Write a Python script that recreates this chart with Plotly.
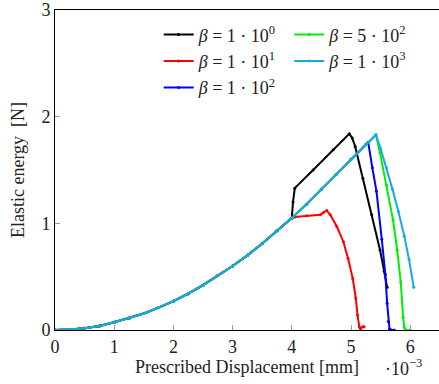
import plotly.graph_objects as go

# Shared loading branch (displacement in 1e-3 mm, elastic energy in N)
u_load = [0.0, 0.25, 0.5, 0.75, 1.0, 1.25, 1.5, 1.75, 2.0, 2.25, 2.5, 2.75,
          3.0, 3.25, 3.5, 3.75, 4.0]
e_load = [0.0, 0.004, 0.016, 0.038, 0.072, 0.11, 0.155, 0.21, 0.27, 0.34,
          0.42, 0.51, 0.60, 0.70, 0.81, 0.93, 1.05]

# Continued loading beyond 4e-3 for the larger beta values
u_late = [4.25, 4.5, 4.75, 5.0, 5.25]
e_late = [1.18, 1.32, 1.46, 1.60, 1.74]

# beta = 1e0
u_b0 = [4.02, 4.05, 4.36, 4.7, 4.97, 5.02, 5.07, 5.2, 5.35, 5.49, 5.56, 5.61]
e_b0 = [1.20, 1.33, 1.50, 1.69, 1.84, 1.80, 1.72, 1.42, 1.08, 0.75, 0.55, 0.40]

# beta = 1e1
u_b1 = [4.05, 4.25, 4.48, 4.53, 4.59, 4.65, 4.76, 4.87, 4.95, 5.03, 5.08,
        5.11, 5.14, 5.16, 5.2, 5.22]
e_b1 = [1.06, 1.07, 1.08, 1.10, 1.12, 1.08, 0.97, 0.83, 0.67, 0.48, 0.30,
        0.14, 0.03, 0.01, 0.03, 0.03]

# beta = 1e2
u_b2 = [5.29, 5.36, 5.43, 5.52, 5.58, 5.61, 5.63, 5.65, 5.68, 5.73]
e_b2 = [1.76, 1.52, 1.30, 0.85, 0.52, 0.25, 0.08, 0.01, 0.0, 0.0]

# beta = 5e2
u_b5 = [5.42, 5.49, 5.6, 5.71, 5.78, 5.84, 5.88, 5.9, 5.93, 6.0]
e_b5 = [1.83, 1.66, 1.36, 1.03, 0.75, 0.45, 0.12, 0.02, 0.0, 0.0]

# beta = 1e3
u_b3 = [5.42, 5.5, 5.6, 5.7, 5.8, 5.9, 5.98, 6.06]
e_b3 = [1.83, 1.70, 1.52, 1.32, 1.11, 0.88, 0.66, 0.40]

labels = ["<i>β</i> = 1 · 10<sup>0</sup>", "<i>β</i> = 1 · 10<sup>1</sup>",
          "<i>β</i> = 1 · 10<sup>2</sup>", "<i>β</i> = 5 · 10<sup>2</sup>",
          "<i>β</i> = 1 · 10<sup>3</sup>"]
colors = ["#000000", "#ff0000", "#0000ff", "#00ee00", "#16a9e1"]

series = [
    (u_load + u_b0, e_load + e_b0, "legend"),
    (u_load + u_b1, e_load + e_b1, "legend"),
    (u_load + u_late + u_b2, e_load + e_late + e_b2, "legend"),
    (u_load + u_late + u_b5, e_load + e_late + e_b5, "legend2"),
    (u_load + u_late + u_b3, e_load + e_late + e_b3, "legend2"),
]

FONT = "'Liberation Serif', 'DejaVu Serif', serif"

fig = go.Figure()
for (x, y, leg), name, col in zip(series, labels, colors):
    fig.add_trace(go.Scatter(
        x=x, y=y, mode="lines+markers", name=name, legend=leg,
        line=dict(color=col, width=2),
        marker=dict(color=col, size=3),
    ))

legend_style = dict(
    bgcolor="rgba(0,0,0,0)", borderwidth=0, tracegroupgap=0,
    font=dict(family=FONT, size=18, color="#222"),
    xanchor="left", yanchor="top",
)

fig.update_layout(
    width=439, height=384,
    margin=dict(l=55, r=0, t=10, b=54),
    plot_bgcolor="white", paper_bgcolor="white",
    font=dict(family=FONT, size=16, color="#222"),
    showlegend=True,
    legend=dict(x=0.27, y=0.98, **legend_style),
    legend2=dict(x=0.61, y=0.98, **legend_style),
    xaxis=dict(
        range=[0, 6.486], showgrid=False, zeroline=False,
        showline=True, linecolor="black", linewidth=1, mirror=True,
        ticks="inside", ticklen=5, tickcolor="#999", tickwidth=1,
        tickvals=[0, 1, 2, 3, 4, 5, 6],
        ticktext=["0", "1", "2", "3", "4", "5", "6"],
        tickfont=dict(family=FONT, size=18),
        title=dict(text="Prescribed Displacement [mm]", standoff=1,
                   font=dict(family=FONT, size=18)),
    ),
    yaxis=dict(
        range=[0, 3], showgrid=False, zeroline=False,
        showline=True, linecolor="black", linewidth=1, mirror=False,
        ticks="inside", ticklen=5, tickcolor="#999", tickwidth=1,
        tickvals=[0, 1, 2, 3], ticktext=["0", "1", "2", "3"],
        tickfont=dict(family=FONT, size=18),
        title=dict(text="Elastic energy  [N]", standoff=12,
                   font=dict(family=FONT, size=18)),
    ),
    annotations=[dict(
        text="·10<sup>−3</sup>", xref="paper", yref="paper",
        x=0.96, y=-0.16, xanchor="right", yanchor="bottom", showarrow=False,
        font=dict(family=FONT, size=18, color="#222"),
    )],
)

fig.write_html("out.html")
